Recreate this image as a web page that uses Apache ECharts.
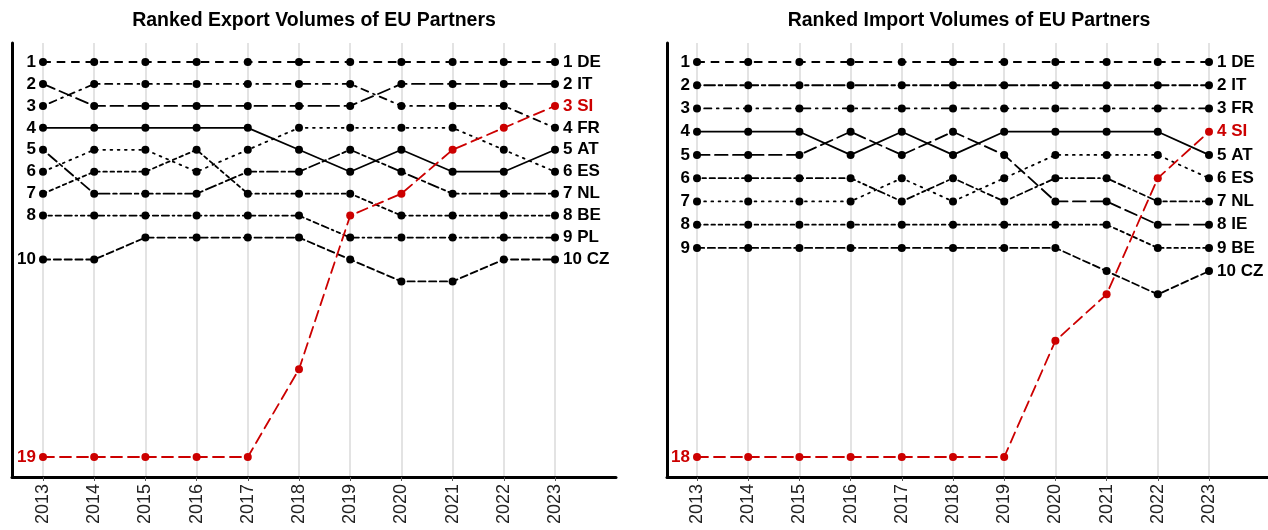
<!DOCTYPE html>
<html>
<head>
<meta charset="utf-8">
<script src="https://cdn.jsdelivr.net/npm/echarts@6/dist/echarts.min.js"></script>
<style>
  html, body { margin: 0; padding: 0; background: #fff; }
  #main { width: 1268px; height: 530px; }
</style>
</head>
<body>
<div id="main"></div>
<script>
// years on the x axis
const years = [2013, 2014, 2015, 2016, 2017, 2018, 2019, 2020, 2021, 2022, 2023];

// export ranks per partner
const exportDE = [1, 1, 1, 1, 1, 1, 1, 1, 1, 1, 1];
const exportIT = [2, 3, 3, 3, 3, 3, 3, 2, 2, 2, 2];
const exportFR = [3, 2, 2, 2, 2, 2, 2, 3, 3, 3, 4];
const exportAT = [4, 4, 4, 4, 4, 5, 6, 5, 6, 6, 5];
const exportNL = [5, 7, 7, 7, 6, 6, 5, 6, 7, 7, 7];
const exportES = [6, 5, 5, 6, 5, 4, 4, 4, 4, 5, 6];
const exportBE = [7, 6, 6, 5, 7, 7, 7, 8, 8, 8, 8];
const exportPL = [8, 8, 8, 8, 8, 8, 9, 9, 9, 9, 9];
const exportCZ = [10, 10, 9, 9, 9, 9, 10, 11, 11, 10, 10];
const exportSI = [19, 19, 19, 19, 19, 15, 8, 7, 5, 4, 3];

// import ranks per partner
const importDE = [1, 1, 1, 1, 1, 1, 1, 1, 1, 1, 1];
const importIT = [2, 2, 2, 2, 2, 2, 2, 2, 2, 2, 2];
const importFR = [3, 3, 3, 3, 3, 3, 3, 3, 3, 3, 3];
const importAT = [4, 4, 4, 5, 4, 5, 4, 4, 4, 4, 5];
const importIE = [5, 5, 5, 4, 5, 4, 5, 7, 7, 8, 8];
const importNL = [6, 6, 6, 6, 7, 6, 7, 6, 6, 7, 7];
const importES = [7, 7, 7, 7, 6, 7, 6, 5, 5, 5, 6];
const importBE = [8, 8, 8, 8, 8, 8, 8, 8, 8, 9, 9];
const importCZ = [9, 9, 9, 9, 9, 9, 9, 9, 10, 11, 10];
const importSI = [18, 18, 18, 18, 18, 18, 18, 13, 11, 6, 4];

const exportPartners = [
  ['DE', exportDE], ['IT', exportIT], ['FR', exportFR], ['AT', exportAT], ['NL', exportNL],
  ['ES', exportES], ['BE', exportBE], ['PL', exportPL], ['CZ', exportCZ], ['SI', exportSI]
];
const importPartners = [
  ['DE', importDE], ['IT', importIT], ['FR', importFR], ['AT', importAT], ['IE', importIE],
  ['NL', importNL], ['ES', importES], ['BE', importBE], ['CZ', importCZ], ['SI', importSI]
];

// line patterns, ggplot-like linetypes in line-width units
const exportDash = {
  AT: null, BE: [2, 2], CZ: [4, 2], DE: [4, 4], ES: [1, 3],
  FR: [1, 3, 4, 3], IT: [7, 3], NL: [2, 2, 6, 2], PL: [1, 2, 2, 2, 3, 2, 4, 2]
};
const importDash = {
  AT: null, BE: [2, 2], CZ: [4, 2], DE: [4, 4], ES: [1, 3],
  FR: [1, 3, 4, 3], IE: [7, 3], IT: [2, 2, 6, 2], NL: [1, 2, 2, 2, 3, 2, 4, 2]
};

const RED = '#cc0000';
const FONT = '"Liberation Sans", Arial, sans-serif';
const LW = 1.8;

var myChart = echarts.init(document.getElementById('main'));

// y range so that rank 1 sits 19px under the top and the last rank 20px above the bottom
function yRange(maxRank) {
  const step = (434 - 39) / (maxRank - 1);
  return { min: 1 - 19 / step, max: maxRank + 20 / step };
}

function dashOf(pattern) {
  return pattern ? pattern.map(d => d * LW) : 'solid';
}

function makeSeries(code, ranks, axisIdx, dash) {
  const isSI = code === 'SI';
  const color = isSI ? RED : '#000';
  const last = ranks.length - 1;
  const labelBase = { show: true, color: color, fontWeight: 'bold', fontSize: 17, fontFamily: FONT };
  return {
    type: 'line',
    name: code,
    xAxisIndex: axisIdx,
    yAxisIndex: axisIdx,
    z: isSI ? 5 : 3,
    symbol: 'circle',
    symbolSize: 8,
    showSymbol: true,
    itemStyle: { color: color },
    lineStyle: {
      color: color, width: LW, cap: 'round',
      type: isSI ? [11, 6] : dashOf(dash[code])
    },
    label: { show: false },
    data: years.map((y, i) => {
      const item = { value: [y, ranks[i]] };
      if (i === 0) {
        item.label = Object.assign({ position: 'left', distance: 3, formatter: String(ranks[i]) }, labelBase);
      } else if (i === last) {
        item.label = Object.assign({ position: 'right', distance: 4, formatter: ranks[i] + ' ' + code }, labelBase);
      }
      return item;
    })
  };
}

const frameAxis = {
  type: 'value', min: 0, max: 1,
  axisLine: { show: true, onZero: false, lineStyle: { color: '#000', width: 3 } },
  axisTick: { show: false }, axisLabel: { show: false }, splitLine: { show: false }
};

function dataX(gridIndex) {
  return {
    type: 'value', gridIndex: gridIndex, min: 2013, max: 2023, interval: 1,
    axisLine: { show: false },
    axisTick: { show: true, length: 4, lineStyle: { color: '#555' } },
    axisLabel: {
      rotate: 90, fontSize: 18, color: '#222', margin: 7, fontFamily: FONT,
      formatter: v => String(v)
    },
    splitLine: { show: true, lineStyle: { color: '#dadada', width: 1.5 } }
  };
}

function dataY(gridIndex, maxRank) {
  const r = yRange(maxRank);
  return {
    type: 'value', gridIndex: gridIndex, inverse: true, min: r.min, max: r.max,
    show: false, splitLine: { show: false }
  };
}

const titleStyle = { fontSize: 19.5, fontWeight: 'bold', color: '#000', fontFamily: FONT };

myChart.setOption({
  animation: false,
  title: [
    { text: 'Ranked Export Volumes of EU Partners', left: 314, top: 11, textAlign: 'center', padding: 0, textStyle: titleStyle },
    { text: 'Ranked Import Volumes of EU Partners', left: 969, top: 11, textAlign: 'center', padding: 0, textStyle: titleStyle }
  ],
  grid: [
    { left: 12, top: 43, width: 604, height: 434 },
    { left: 43, top: 43, width: 512, height: 434 },
    { left: 667, top: 43, width: 601, height: 434 },
    { left: 697, top: 43, width: 512, height: 434 }
  ],
  xAxis: [
    Object.assign({ gridIndex: 0 }, frameAxis),
    dataX(1),
    Object.assign({ gridIndex: 2 }, frameAxis),
    dataX(3)
  ],
  yAxis: [
    Object.assign({ gridIndex: 0 }, frameAxis),
    dataY(1, 19),
    Object.assign({ gridIndex: 2 }, frameAxis),
    dataY(3, 18)
  ],
  series: [].concat(
    exportPartners.map(p => makeSeries(p[0], p[1], 1, exportDash)),
    importPartners.map(p => makeSeries(p[0], p[1], 3, importDash))
  )
});
</script>
</body>
</html>
